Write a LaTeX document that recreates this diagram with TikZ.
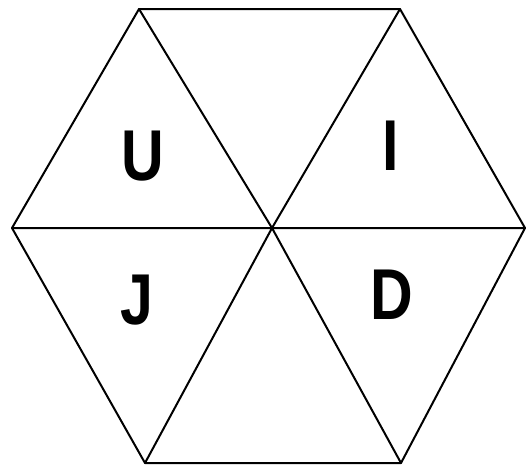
\documentclass[tikz,border=0pt]{standalone}
\usepackage{fontspec}
\setmainfont{Liberation Sans}
\usepackage{tikz}
\tikzset{
  edge/.style={line width=2pt,black,line cap=round,line join=round},
  lt/.style={font=\fontsize{72}{72}\selectfont\bfseries,inner sep=0pt,xscale=0.82}
}

\begin{document}
\begin{tikzpicture}[x=1pt,y=-1pt]
\useasboundingbox (0,0) rectangle (526,467);
\coordinate (c) at (272,228);
\coordinate (l) at (12,228);
\coordinate (r) at (525,228);
\coordinate (tl) at (139,9);
\coordinate (tr) at (400,9);
\coordinate (bl) at (145,463);
\coordinate (br) at (401,463);
\draw[edge] (l)--(tl)--(tr)--(r)--(br)--(bl)--cycle;
\draw[edge] (l)--(r) (tl)--(c)--(tr) (bl)--(c)--(br);
\node[lt] (u) at (143,156) {U};
\node[lt] (i) at (391,146) {I};
\node[lt] (j) at (137,300) {J};
\node[lt] (d) at (392,295) {D};
\end{tikzpicture}
\end{document}
